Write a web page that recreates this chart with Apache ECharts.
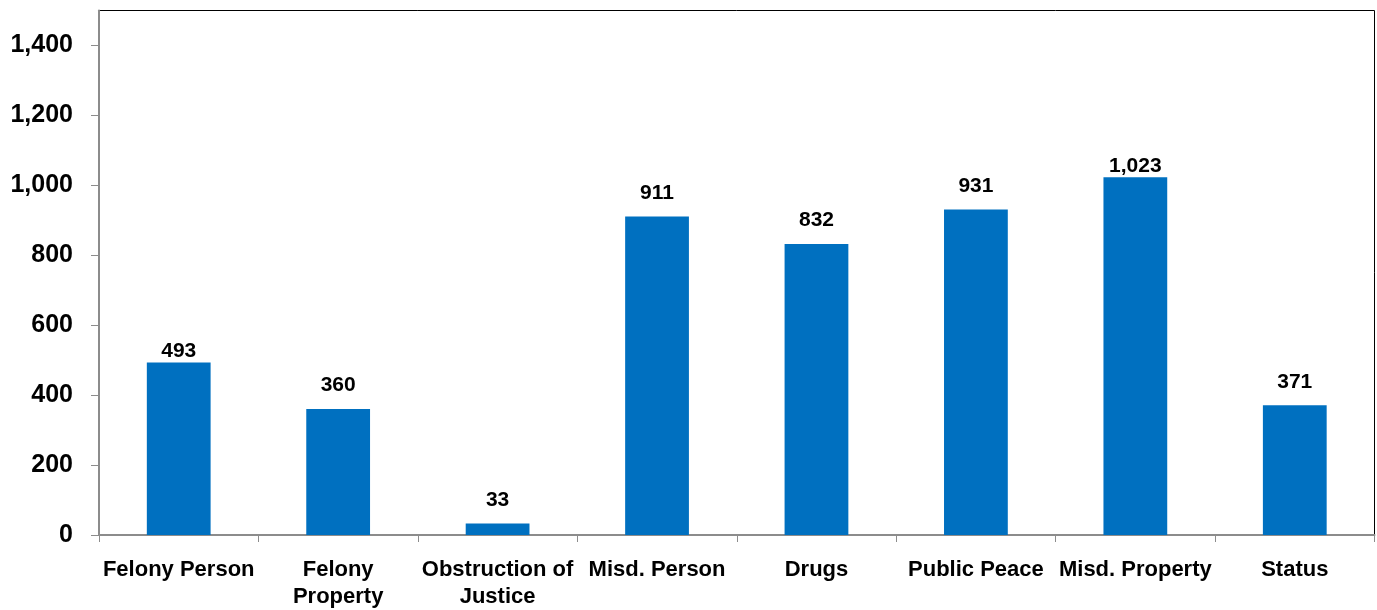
<!DOCTYPE html>
<html>
<head>
<meta charset="utf-8">
<script src="https://cdn.jsdelivr.net/npm/echarts@6/dist/echarts.min.js"></script>
<style>
	html, body { margin: 0; padding: 0; background: #fff; }
	#chart { width: 1377px; height: 610px; }
</style>
</head>
<body>
<div id="chart"></div>
<script>
var categories = ["Felony Person", "Felony\nProperty", "Obstruction of\nJustice", "Misd. Person", "Drugs", "Public Peace", "Misd. Property", "Status"];
var values = [493, 360, 33, 911, 832, 931, 1023, 371];
// labels that sit tight on the bar top in the original
var tightLabels = [0, 6];

var fontName = "'Liberation Sans', Arial, sans-serif";

function fmt(v) {
	return String(v).replace(/\B(?=(\d{3})+(?!\d))/g, ",");
}

var chart = echarts.init(document.getElementById("chart"));

var barData = values.map(function(v, i) {
	var item = { value: v };
	if (tightLabels.indexOf(i) >= 0) {
		item.label = { distance: 1 };
	}
	return item;
});

var option = {
	animation: false,
	backgroundColor: "#fff",
	grid: {
		left: 99,
		right: 2.5,
		top: 10.5,
		bottom: 74,
		show: true,
		borderColor: "#000",
		borderWidth: 1,
		containLabel: false
	},
	xAxis: {
		type: "category",
		data: categories,
		boundaryGap: true,
		axisLine: { lineStyle: { color: "#8c8c8c", width: 2 } },
		axisTick: { show: true, length: 7, lineStyle: { color: "#8c8c8c", width: 1 } },
		axisLabel: {
			interval: 0,
			margin: 21,
			color: "#000",
			fontFamily: fontName,
			fontWeight: "bold",
			fontSize: 22,
			lineHeight: 27
		},
		splitLine: { show: false }
	},
	yAxis: {
		type: "value",
		min: 0,
		max: 1500,
		interval: 200,
		axisLine: { show: true, lineStyle: { color: "#8c8c8c", width: 2 } },
		axisTick: { show: true, length: 8, lineStyle: { color: "#8c8c8c", width: 1 } },
		axisLabel: {
			showMaxLabel: false,
			margin: 26,
			color: "#000",
			fontFamily: fontName,
			fontWeight: "bold",
			fontSize: 25,
			formatter: function(v) { return v > 1400 ? "" : fmt(v); }
		},
		splitLine: { show: false }
	},
	series: [{
		type: "bar",
		data: barData,
		barWidth: "40%",
		itemStyle: { color: "#0070C0" },
		label: {
			show: true,
			position: "top",
			distance: 13,
			color: "#000",
			fontFamily: fontName,
			fontWeight: "bold",
			fontSize: 21,
			formatter: function(p) { return fmt(p.value); }
		}
	}]
};

chart.setOption(option);
</script>
</body>
</html>
